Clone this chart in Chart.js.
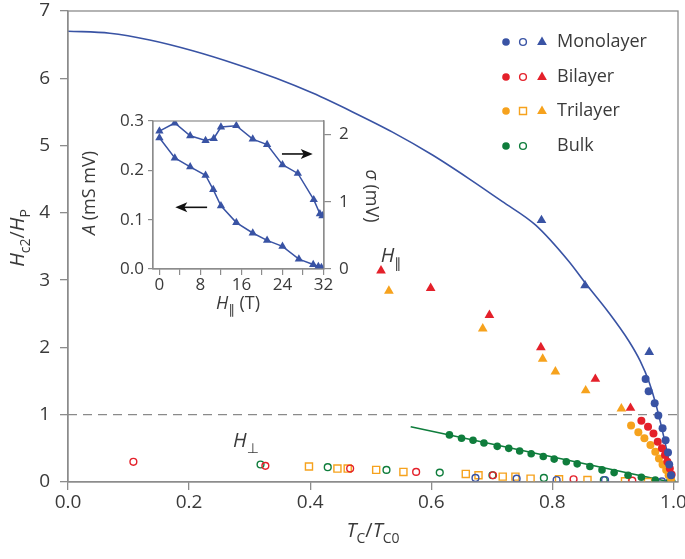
<!DOCTYPE html>
<html lang="en">
<head>
  <meta charset="UTF-8" />
  <title>Hc2/HP vs Tc/Tc0</title>
  <script src="https://cdn.jsdelivr.net/npm/chart.js"></script>
  <style>
    body { margin: 0; background: #fff; }
    #wrap { position: relative; width: 685px; height: 559px; }
    #wrap canvas { position: absolute; left: 0; top: 0; }
  </style>
</head>
<body>
  <div id="wrap">
    <canvas id="mainChart" width="685" height="559"></canvas>
    <canvas id="insetChart" width="685" height="559"></canvas>
  </div>

  <script>
    // ---- main panel data (T_C/T_C0 , H_c2/H_P) ----
    const xTicks = [0, 0.2, 0.4, 0.6, 0.8, 1.0];
    const yTicks = [0, 1, 2, 3, 4, 5, 6, 7];

    const monoCurveT = [0, 0.069, 0.135, 0.206, 0.278, 0.344, 0.404, 0.470, 0.536, 0.602, 0.662, 0.717, 0.772, 0.827, 0.855, 0.893, 0.926, 0.945, 0.960, 0.972, 0.982, 0.990, 0.996, 0.998];
    const monoCurveH = [6.70, 6.67, 6.57, 6.41, 6.21, 6.00, 5.78, 5.50, 5.20, 4.86, 4.51, 4.17, 3.82, 3.28, 2.95, 2.52, 2.10, 1.80, 1.48, 1.12, 0.75, 0.42, 0.12, 0.0];

    const refT = [0, 1.0075];
    const refH = [1, 1];

    const bulkLineT = [0.566, 0.995];
    const bulkLineH = [0.82, 0.0];

    const monoTriT = [0.782, 0.854, 0.960];
    const monoTriH = [3.89, 2.92, 1.93];
    const monoDotT = [0.954, 0.959, 0.969, 0.975, 0.982, 0.987, 0.991, 0.993, 0.996];
    const monoDotH = [1.53, 1.35, 1.17, 0.99, 0.80, 0.62, 0.44, 0.26, 0.10];
    const monoOpenT = [0.673, 0.741, 0.807, 0.887, 0.981];
    const monoOpenH = [0.06, 0.05, 0.03, 0.03, 0.01];

    const biTriT = [0.517, 0.599, 0.696, 0.781, 0.871, 0.929];
    const biTriH = [3.14, 2.88, 2.48, 2.00, 1.53, 1.10];
    const biDotT = [0.947, 0.958, 0.967, 0.974, 0.981, 0.986, 0.990, 0.994, 0.997];
    const biDotH = [0.91, 0.82, 0.72, 0.60, 0.50, 0.40, 0.30, 0.20, 0.11];
    const biOpenT = [0.108, 0.326, 0.466, 0.575, 0.702, 0.835, 0.932];
    const biOpenH = [0.30, 0.24, 0.20, 0.15, 0.10, 0.04, 0.02];

    const triTriT = [0.530, 0.685, 0.784, 0.805, 0.855, 0.914];
    const triTriH = [2.84, 2.28, 1.83, 1.64, 1.36, 1.09];
    const triDotT = [0.930, 0.942, 0.952, 0.962, 0.970, 0.976, 0.982, 0.988, 0.992, 0.996];
    const triDotH = [0.84, 0.74, 0.65, 0.55, 0.45, 0.35, 0.26, 0.18, 0.10, 0.04];
    const triOpenT = [0.398, 0.445, 0.462, 0.509, 0.554, 0.657, 0.678, 0.718, 0.739, 0.764, 0.811, 0.858, 0.920, 0.958];
    const triOpenH = [0.23, 0.20, 0.20, 0.18, 0.15, 0.12, 0.10, 0.08, 0.08, 0.05, 0.04, 0.03, 0.01, 0.0];

    const bulkDotT = [0.630, 0.650, 0.669, 0.687, 0.709, 0.728, 0.746, 0.765, 0.785, 0.803, 0.823, 0.841, 0.862, 0.882, 0.902, 0.925, 0.947, 0.970, 0.993];
    const bulkDotH = [0.70, 0.65, 0.62, 0.58, 0.53, 0.50, 0.46, 0.42, 0.38, 0.34, 0.30, 0.27, 0.23, 0.18, 0.14, 0.10, 0.07, 0.03, 0.0];
    const bulkOpenT = [0.318, 0.429, 0.526, 0.614, 0.701, 0.786, 0.885, 0.997];
    const bulkOpenH = [0.26, 0.22, 0.18, 0.14, 0.10, 0.06, 0.03, 0.0];

    // ---- inset data (H_par in T) ----
    const insetXTicks = [0, 4, 8, 12, 16, 20, 24, 28, 32];
    const insetATicks = [0, 0.1, 0.2, 0.3];
    const insetSTicks = [0, 1, 2];

    const fieldA = [0, 3, 6, 9, 10.5, 12, 15, 18.2, 21, 24, 27.2, 30, 31, 31.6];
    const valueA = [0.266, 0.225, 0.207, 0.190, 0.161, 0.128, 0.094, 0.073, 0.058, 0.046, 0.020, 0.009, 0.005, 0.003];
    const fieldSigma = [0, 3, 6, 9, 10.6, 12, 15, 18.2, 21, 24, 27, 30.1, 31.3, 31.8];
    const valueSigma = [2.05, 2.17, 1.98, 1.91, 1.94, 2.11, 2.13, 1.93, 1.85, 1.55, 1.42, 1.03, 0.82, 0.79];

    const arrowA = [9.3, 3.1, 0.125];      // from x, to x, at A
    const arrowSigma = [23.9, 29.9, 1.71]; // from x, to x, at sigma

    const BLUE = '#3953a4', RED = '#e4202a', ORANGE = '#f6a21d', GREEN = '#0f7d3c';
    const AXIS = '#8c8c8c', TXT = '#3a3a3a';
    const FONT = "'Open Sans', 'DejaVu Sans', sans-serif";

    const pts = (xs, ys) => xs.map((x, i) => ({ x, y: ys[i] }));

    function marks(xs, ys, color, style, filled, r) {
      return {
        type: 'scatter',
        data: pts(xs, ys),
        pointStyle: style,
        pointRadius: r,
        pointHoverRadius: r,
        pointBackgroundColor: filled ? color : 'rgba(0,0,0,0)',
        pointBorderColor: color,
        pointBorderWidth: filled ? 0 : 1.4,
        showLine: false,
        order: 1
      };
    }

    // text with italic / subscript pieces, centred on x, baseline y
    function richText(ctx, parts, x, y, size) {
      const fontOf = p => `${p.i ? 'italic ' : ''}${p.sub ? Math.round(size * 0.72) : size}px ${FONT}`;
      let w = 0;
      parts.forEach(p => { ctx.font = fontOf(p); w += ctx.measureText(p.t).width; });
      let cx = x - w / 2;
      ctx.textAlign = 'left';
      ctx.textBaseline = 'alphabetic';
      parts.forEach(p => {
        ctx.font = fontOf(p);
        ctx.fillText(p.t, cx, y + (p.sub ? size * 0.3 : 0));
        cx += ctx.measureText(p.t).width;
      });
    }

    function drawSymbol(ctx, kind, color, x, y) {
      ctx.save();
      ctx.fillStyle = color;
      ctx.strokeStyle = color;
      ctx.lineWidth = 1.4;
      ctx.beginPath();
      if (kind === 'dot') { ctx.arc(x, y, 3.8, 0, Math.PI * 2); ctx.fill(); }
      if (kind === 'ring') { ctx.arc(x, y, 3.4, 0, Math.PI * 2); ctx.stroke(); }
      if (kind === 'square') { ctx.rect(x - 3.5, y - 3.5, 7, 7); ctx.stroke(); }
      if (kind === 'tri') {
        ctx.moveTo(x, y - 5.4); ctx.lineTo(x + 4.9, y + 3); ctx.lineTo(x - 4.9, y + 3); ctx.closePath(); ctx.fill();
      }
      ctx.restore();
    }

    const legendRows = [
      { label: 'Monolayer', color: BLUE, marks: ['dot', 'ring', 'tri'] },
      { label: 'Bilayer', color: RED, marks: ['dot', 'ring', 'tri'] },
      { label: 'Trilayer', color: ORANGE, marks: ['dot', 'square', 'tri'] },
      { label: 'Bulk', color: GREEN, marks: ['dot', 'ring'] }
    ];

    const mainDecor = {
      id: 'mainDecor',
      afterDraw(chart) {
        const ctx = chart.ctx, a = chart.chartArea;
        ctx.save();
        ctx.strokeStyle = AXIS;
        ctx.lineWidth = 1.3;
        ctx.strokeRect(a.left, a.top, a.right - a.left, a.bottom - a.top);
        ctx.fillStyle = TXT;

        // axis titles
        richText(ctx, [{ t: 'T', i: true }, { t: 'C', sub: true }, { t: '/' }, { t: 'T', i: true }, { t: 'C0', sub: true }], 373, 537, 20);
        ctx.save();
        ctx.translate(24, 238);
        ctx.rotate(-Math.PI / 2);
        richText(ctx, [{ t: 'H', i: true }, { t: 'c2', sub: true }, { t: '/' }, { t: 'H', i: true }, { t: 'P', sub: true }], 0, 0, 20);
        ctx.restore();

        // field direction labels
        richText(ctx, [{ t: 'H', i: true }, { t: '\u2225', sub: true }], 391, 262, 20);
        richText(ctx, [{ t: 'H', i: true }, { t: '\u22A5', sub: true }], 246, 447, 20);

        // legend
        const rowY = [42, 77, 111, 146];
        const symX = [506, 523, 542];
        legendRows.forEach((row, r) => {
          row.marks.forEach((m, k) => drawSymbol(ctx, m, row.color, symX[k], rowY[r]));
          ctx.fillStyle = TXT;
          ctx.font = `18px ${FONT}`;
          ctx.textAlign = 'left';
          ctx.textBaseline = 'middle';
          ctx.fillText(row.label, 557, rowY[r]);
        });
        ctx.restore();
      }
    };

    new Chart(document.getElementById('mainChart'), {
      type: 'scatter',
      data: {
        datasets: [
          marks(monoTriT, monoTriH, BLUE, 'triangle', true, 5.6),
          marks(biTriT, biTriH, RED, 'triangle', true, 5.6),
          marks(triTriT, triTriH, ORANGE, 'triangle', true, 5.6),
          marks(monoDotT, monoDotH, BLUE, 'circle', true, 4),
          marks(biDotT, biDotH, RED, 'circle', true, 4),
          marks(triDotT, triDotH, ORANGE, 'circle', true, 4),
          marks(bulkDotT, bulkDotH, GREEN, 'circle', true, 3.8),
          marks(monoOpenT, monoOpenH, BLUE, 'circle', false, 3.4),
          marks(biOpenT, biOpenH, RED, 'circle', false, 3.4),
          marks(bulkOpenT, bulkOpenH, GREEN, 'circle', false, 3.4),
          marks(triOpenT, triOpenH, ORANGE, 'rect', false, 5),
          {
            type: 'line', data: pts(monoCurveT, monoCurveH), borderColor: BLUE, borderWidth: 1.6,
            pointRadius: 0, cubicInterpolationMode: 'monotone', order: 5
          },
          {
            type: 'line', data: pts(bulkLineT, bulkLineH), borderColor: GREEN, borderWidth: 1.6,
            pointRadius: 0, order: 5
          },
          {
            type: 'line', data: pts(refT, refH), borderColor: '#8a8a8a', borderWidth: 1.3,
            borderDash: [9, 6], pointRadius: 0, order: 10
          }
        ]
      },
      options: {
        responsive: false,
        animation: false,
        events: [],
        layout: { padding: { top: 11, right: 7, left: 0, bottom: 0 } },
        plugins: { legend: { display: false }, tooltip: { enabled: false } },
        scales: {
          x: {
            type: 'linear', min: 0, max: 1.0075,
            afterFit: s => { s.height = 77; s.paddingLeft = 0; s.paddingRight = 0; },
            afterBuildTicks: s => { s.ticks = xTicks.map(v => ({ value: v })); },
            grid: { drawOnChartArea: false, tickLength: 8, color: AXIS, lineWidth: 1.3 },
            border: { color: AXIS, width: 1.3 },
            ticks: { callback: v => v.toFixed(1), font: { family: FONT, size: 19 }, color: TXT, padding: 1, maxRotation: 0, autoSkip: false }
          },
          y: {
            type: 'linear', min: 0, max: 7,
            afterFit: s => { s.width = 68; s.paddingTop = 0; s.paddingBottom = 0; },
            afterBuildTicks: s => { s.ticks = yTicks.map(v => ({ value: v })); },
            grid: { drawOnChartArea: false, tickLength: 8, color: AXIS, lineWidth: 1.3 },
            border: { color: AXIS, width: 1.3 },
            ticks: { callback: v => String(v), font: { family: FONT, size: 19 }, color: TXT, padding: 10, autoSkip: false }
          }
        }
      },
      plugins: [mainDecor]
    });

    // ---- inset ----
    function arrow(ctx, x0, x1, y) {
      const dir = Math.sign(x1 - x0);
      ctx.beginPath();
      ctx.moveTo(x0, y);
      ctx.lineTo(x1 - dir * 8, y);
      ctx.stroke();
      ctx.beginPath();
      ctx.moveTo(x1, y);
      ctx.lineTo(x1 - dir * 12, y - 5);
      ctx.lineTo(x1 - dir * 9, y);
      ctx.lineTo(x1 - dir * 12, y + 5);
      ctx.closePath();
      ctx.fill();
    }

    const insetDecor = {
      id: 'insetDecor',
      afterDraw(chart) {
        const ctx = chart.ctx, a = chart.chartArea, s = chart.scales;
        ctx.save();
        ctx.strokeStyle = AXIS;
        ctx.lineWidth = 1.2;
        ctx.strokeRect(a.left, a.top, a.right - a.left, a.bottom - a.top);

        ctx.strokeStyle = '#111';
        ctx.fillStyle = '#111';
        ctx.lineWidth = 1.6;
        arrow(ctx, s.x.getPixelForValue(arrowA[0]), s.x.getPixelForValue(arrowA[1]), s.y.getPixelForValue(arrowA[2]));
        arrow(ctx, s.x.getPixelForValue(arrowSigma[0]), s.x.getPixelForValue(arrowSigma[1]), s.y2.getPixelForValue(arrowSigma[2]));

        ctx.fillStyle = TXT;
        richText(ctx, [{ t: 'H', i: true }, { t: '\u2225', sub: true }, { t: ' (T)' }], 238, 309, 18);
        ctx.save();
        ctx.translate(95, 193);
        ctx.rotate(-Math.PI / 2);
        richText(ctx, [{ t: 'A', i: true }, { t: ' (mS mV)' }], 0, 0, 18);
        ctx.restore();
        ctx.save();
        ctx.translate(366, 196);
        ctx.rotate(Math.PI / 2);
        richText(ctx, [{ t: '\u03C3', i: true }, { t: ' (mV)' }], 0, 0, 18);
        ctx.restore();
        ctx.restore();
      }
    };

    const insetTick = { family: FONT, size: 17 };

    new Chart(document.getElementById('insetChart'), {
      type: 'line',
      data: {
        datasets: [
          {
            data: pts(fieldA, valueA), yAxisID: 'y', borderColor: BLUE, borderWidth: 1.5,
            pointStyle: 'triangle', pointRadius: 4.8, pointBackgroundColor: BLUE, pointBorderWidth: 0
          },
          {
            data: pts(fieldSigma, valueSigma), yAxisID: 'y2', borderColor: BLUE, borderWidth: 1.5,
            pointStyle: 'triangle', pointRadius: 4.8, pointBackgroundColor: BLUE, pointBorderWidth: 0
          }
        ]
      },
      options: {
        responsive: false,
        animation: false,
        events: [],
        layout: { padding: { left: 113, right: 321, top: 121, bottom: 260 } },
        plugins: { legend: { display: false }, tooltip: { enabled: false } },
        scales: {
          x: {
            type: 'linear', min: -1.25, max: 32.1,
            afterFit: s => { s.height = 30; s.paddingLeft = 0; s.paddingRight = 0; },
            afterBuildTicks: s => { s.ticks = insetXTicks.map(v => ({ value: v })); },
            grid: { drawOnChartArea: false, tickLength: 6, color: AXIS, lineWidth: 1.2 },
            border: { color: AXIS, width: 1.2 },
            ticks: { callback: v => (v % 8 === 0 ? String(v) : ''), font: insetTick, color: TXT, padding: 0, maxRotation: 0, autoSkip: false }
          },
          y: {
            type: 'linear', position: 'left', min: 0, max: 0.3,
            afterFit: s => { s.width = 40; s.paddingTop = 0; s.paddingBottom = 0; },
            afterBuildTicks: s => { s.ticks = insetATicks.map(v => ({ value: v })); },
            grid: { drawOnChartArea: false, tickLength: 5, color: AXIS, lineWidth: 1.2 },
            border: { color: AXIS, width: 1.2 },
            ticks: { callback: v => v.toFixed(1), font: insetTick, color: TXT, padding: 4, autoSkip: false }
          },
          y2: {
            type: 'linear', position: 'right', min: 0, max: 2.2,
            afterFit: s => { s.width = 40; s.paddingTop = 0; s.paddingBottom = 0; },
            afterBuildTicks: s => { s.ticks = insetSTicks.map(v => ({ value: v })); },
            grid: { drawOnChartArea: false, tickLength: 7, color: AXIS, lineWidth: 1.2 },
            border: { color: AXIS, width: 1.2 },
            ticks: { callback: v => String(v), font: insetTick, color: TXT, padding: 8, autoSkip: false }
          }
        }
      },
      plugins: [insetDecor]
    });
  </script>
</body>
</html>
